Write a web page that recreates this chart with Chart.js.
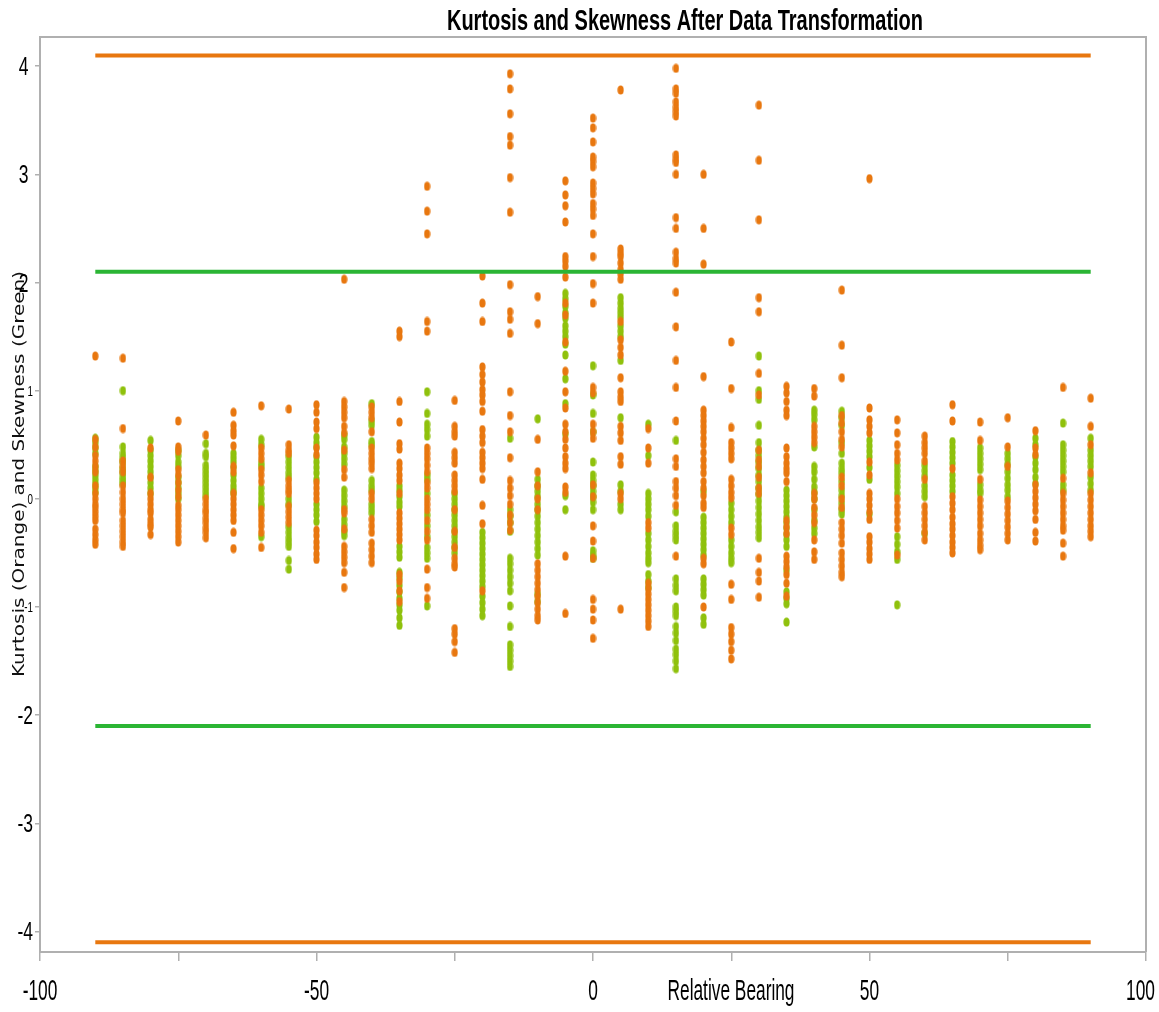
<!DOCTYPE html>
<html>
<head>
<meta charset="utf-8">
<script src="https://cdn.jsdelivr.net/npm/chart.js@4.4.1/dist/chart.umd.min.js"></script>
<style>
  html, body { margin: 0; padding: 0; background: #fff; }
  #wrap { width: 1159px; height: 1012px; position: relative; }
</style>
</head>
<body>
<div id="wrap"><canvas id="chart"></canvas></div>
<script>
// Data (one inner list per bearing column)
var bearings = [-90, -85, -80, -75, -70, -65, -60, -55, -50, -45, -40, -35, -30, -25, -20, -15, -10, -5,
  0, 5, 10, 15, 20, 25, 30, 35, 40, 45, 50, 55, 60, 65, 70, 75, 80, 85, 90];

var kurtosis = [
  [1.32, 0.55, 0.48, 0.40, 0.35, 0.30, 0.25, 0.12, 0.05, 0.00, -0.05, -0.08, -0.12, -0.16, -0.20, -0.28, -0.33, -0.38, -0.42],
  [1.30, 0.65, 0.35, 0.30, 0.25, 0.12, 0.06, 0.00, -0.05, -0.10, -0.13, -0.20, -0.25, -0.30, -0.35, -0.40, -0.44],
  [0.47, 0.20, 0.05, 0.00, -0.05, -0.10, -0.13, -0.19, -0.23, -0.26, -0.33],
  [0.72, 0.48, 0.44, 0.27, 0.22, 0.15, 0.08, 0.02, -0.06, -0.10, -0.15, -0.20, -0.25, -0.30, -0.35, -0.40],
  [0.59, 0.00, -0.05, -0.10, -0.13, -0.18, -0.22, -0.27, -0.31, -0.36],
  [0.80, 0.68, 0.63, 0.59, 0.49, 0.30, 0.25, 0.05, 0.00, -0.05, -0.10, -0.15, -0.20, -0.31, -0.46],
  [0.86, 0.47, 0.42, 0.37, 0.27, 0.22, 0.16, -0.10, -0.15, -0.20, -0.25, -0.31, -0.45],
  [0.83, 0.50, 0.45, 0.42, 0.17, 0.12, 0.08, 0.05, -0.07, -0.12, -0.17, -0.22],
  [0.87, 0.80, 0.71, 0.65, 0.47, 0.41, 0.15, 0.10, 0.05, 0.00, -0.29, -0.34, -0.40, -0.45, -0.51, -0.56],
  [2.03, 0.90, 0.85, 0.80, 0.75, 0.67, 0.61, 0.45, 0.27, 0.20, -0.10, -0.13, -0.28, -0.44, -0.49, -0.54, -0.59, -0.68, -0.82],
  [0.85, 0.80, 0.75, 0.62, 0.47, 0.42, 0.37, 0.33, 0.28, 0.05, 0.00, -0.19, -0.25, -0.31, -0.41, -0.47, -0.53, -0.59],
  [1.55, 1.50, 0.90, 0.71, 0.51, 0.46, 0.33, 0.28, 0.22, 0.17, 0.05, -0.13, -0.18, -0.23, -0.28, -0.33, -0.38, -0.70, -0.76, -0.85, -0.95],
  [2.89, 2.66, 2.45, 1.64, 1.55, 0.47, 0.42, 0.37, 0.31, 0.25, 0.15, 0.10, 0.00, -0.05, -0.10, -0.20, -0.30, -0.38, -0.65, -0.82, -0.92],
  [0.91, 0.67, 0.62, 0.58, 0.43, 0.38, 0.33, 0.22, 0.17, 0.12, 0.07, -0.10, -0.30, -0.45, -0.55, -0.60, -0.63, -1.20, -1.25, -1.32, -1.42],
  [2.06, 1.81, 1.64, 1.22, 1.15, 1.08, 1.01, 0.96, 0.90, 0.81, 0.64, 0.58, 0.52, 0.43, 0.38, 0.33, 0.28, 0.18, -0.06, -0.23, -0.85],
  [3.93, 3.79, 3.56, 3.35, 3.27, 2.97, 2.65, 1.98, 1.73, 1.66, 1.53, 0.99, 0.77, 0.62, 0.38, 0.17, 0.10, 0.03, -0.05, -0.15, -0.22, -0.29],
  [1.87, 1.62, 0.55, 0.25, 0.12, 0.00, -0.10, -0.60, -0.66, -0.72, -0.78, -0.84, -0.90, -0.96, -1.02, -1.08, -1.12],
  [2.94, 2.81, 2.71, 2.56, 2.24, 2.20, 2.15, 2.05, 1.81, 1.70, 1.45, 1.18, 0.99, 0.84, 0.69, 0.62, 0.55, 0.47, 0.39, 0.33, 0.28, 0.11, 0.06, -0.53, -1.06],
  [3.52, 3.43, 3.30, 3.16, 3.12, 3.07, 2.92, 2.87, 2.82, 2.73, 2.68, 2.62, 2.45, 2.24, 1.99, 1.81, 1.03, 0.98, 0.69, 0.62, 0.56, 0.13, 0.02, -0.25, -0.39, -0.55, -0.93, -1.02, -1.12, -1.29],
  [3.78, 2.31, 2.27, 2.24, 2.18, 2.12, 2.08, 2.03, 1.64, 1.47, 1.40, 1.33, 1.12, 0.99, 0.94, 0.90, 0.67, 0.61, 0.54, 0.39, 0.32, 0.05, 0.00, -1.02],
  [0.65, 0.47, 0.33, -0.22, -0.27, -0.78, -0.83, -0.88, -0.93, -0.98, -1.03, -1.08, -1.13, -1.18],
  [3.98, 3.79, 3.75, 3.67, 3.62, 3.58, 3.54, 3.18, 3.14, 3.11, 3.00, 2.60, 2.50, 2.28, 2.22, 2.18, 1.91, 1.59, 1.28, 1.03, 0.72, 0.37, 0.30, 0.16, 0.10, 0.03, -0.06, -0.53],
  [3.00, 2.50, 2.17, 1.13, 0.82, 0.77, 0.72, 0.67, 0.62, 0.56, 0.50, 0.43, 0.36, 0.30, 0.24, 0.16, 0.10, 0.03, -0.04, -0.08, -0.55, -0.60, -1.00],
  [1.45, 1.02, 0.66, 0.52, 0.47, 0.42, 0.37, 0.18, 0.12, 0.06, 0.01, -0.27, -0.33, -0.79, -0.93, -1.19, -1.25, -1.32, -1.40, -1.48],
  [3.64, 3.13, 2.58, 1.86, 1.73, 1.16, 0.96, 0.45, 0.36, 0.30, 0.20, 0.10, 0.05, -0.55, -0.68, -0.76, -0.91],
  [1.04, 0.98, 0.90, 0.82, 0.77, 0.47, 0.39, 0.33, 0.28, 0.24, 0.16, -0.20, -0.26, -0.32, -0.53, -0.58, -0.63, -0.70, -0.78, -0.90],
  [1.02, 0.95, 0.67, 0.62, 0.57, 0.52, 0.05, 0.00, -0.08, -0.15, -0.22, -0.38, -0.49, -0.56],
  [1.93, 1.42, 1.12, 0.77, 0.70, 0.62, 0.55, 0.48, 0.20, 0.12, 0.00, -0.08, -0.22, -0.28, -0.34, -0.41, -0.50, -0.56, -0.62, -0.68, -0.72],
  [2.96, 0.84, 0.73, 0.67, 0.61, 0.34, 0.22, 0.05, 0.00, -0.06, -0.12, -0.19, -0.35, -0.40, -0.46, -0.51, -0.56],
  [0.73, 0.61, 0.50, 0.42, 0.36, 0.00, -0.07, -0.13, -0.20, -0.27, -0.52],
  [0.58, 0.52, 0.47, 0.42, 0.35, 0.18, -0.07, -0.13, -0.19, -0.25, -0.31, -0.38],
  [0.87, 0.72, 0.28, 0.02, -0.04, -0.10, -0.17, -0.23, -0.28, -0.34, -0.40, -0.45, -0.50],
  [0.71, 0.54, 0.18, -0.01, -0.07, -0.13, -0.19, -0.25, -0.32, -0.38, -0.43, -0.47],
  [0.75, 0.48, 0.30, -0.02, -0.08, -0.14, -0.20, -0.26, -0.32, -0.38],
  [0.63, 0.47, 0.41, 0.13, 0.07, 0.01, -0.05, -0.11, -0.19, -0.31, -0.39],
  [1.03, 0.19, 0.05, -0.01, -0.07, -0.13, -0.19, -0.25, -0.29, -0.41, -0.53],
  [0.93, 0.67, 0.50, 0.24, 0.05, -0.01, -0.07, -0.13, -0.19, -0.25, -0.30, -0.35]
];

var skewness = [
  [0.56, 0.52, 0.47, 0.42, 0.30, 0.26, 0.22, 0.18, 0.14, 0.10, 0.06],
  [1.00, 0.48, 0.42, 0.38, 0.34, 0.28, 0.24, 0.20, 0.17, 0.14],
  [0.54, 0.45, 0.40, 0.35, 0.30, 0.25, 0.20, 0.15, 0.10, 0.05],
  [0.45, 0.40, 0.34, 0.30, 0.20, 0.15, 0.10, 0.05, 0.00],
  [0.51, 0.42, 0.39, 0.31, 0.27, 0.23, 0.19, 0.15, 0.11, 0.07, 0.03],
  [0.42, 0.38, 0.34, 0.29, 0.22, 0.17, 0.12, 0.08, 0.05],
  [0.55, 0.50, 0.33, 0.30, 0.10, 0.05, 0.00, -0.05, -0.07, -0.35],
  [0.39, 0.34, 0.29, 0.24, 0.20, 0.00, -0.05, -0.26, -0.31, -0.36, -0.40, -0.44, -0.57, -0.65],
  [0.57, 0.52, 0.48, 0.39, 0.34, 0.29, 0.24, 0.18, -0.05, -0.10, -0.15, -0.21],
  [0.59, 0.55, 0.48, 0.42, 0.37, 0.32, 0.08, 0.03, -0.02, -0.07, -0.19, -0.24, -0.30, -0.34],
  [0.88, 0.72, 0.68, 0.53, 0.50, 0.17, 0.12, 0.08, -0.05, -0.09, -0.13],
  [0.12, 0.08, 0.02, -0.03, -0.07, -0.44, -0.49, -0.54, -0.68, -0.73, -0.80, -0.86, -0.92, -0.98, -1.03, -1.10, -1.17],
  [0.99, 0.79, 0.69, 0.64, 0.58, 0.22, 0.18, 0.05, -0.15, -0.25, -0.35, -0.45, -0.50, -0.55, -0.99],
  [0.05, 0.00, -0.05, -0.10, -0.15, -0.20, -0.25, -0.30, -0.35, -0.40, -0.45, -0.50],
  [-0.31, -0.36, -0.41, -0.46, -0.51, -0.56, -0.61, -0.66, -0.71, -0.76, -0.81, -0.90, -0.96, -1.02, -1.08],
  [0.56, -0.10, -0.16, -0.22, -0.30, -0.55, -0.60, -0.66, -0.72, -0.78, -0.85, -0.99, -1.18, -1.35, -1.40, -1.45, -1.50, -1.55],
  [0.74, 0.18, 0.12, 0.07, 0.02, -0.05, -0.10, -0.16, -0.22, -0.28, -0.34, -0.40, -0.46, -0.52, -0.88, -0.95],
  [1.90, 1.85, 1.78, 1.72, 1.67, 1.60, 1.55, 1.50, 1.43, 1.33, 1.11, 0.88, 0.60, 0.03, -0.10],
  [1.23, 0.96, 0.79, 0.62, 0.34, 0.22, 0.17, 0.12, 0.07, 0.02, -0.03, -0.10, -0.48, -0.52, -0.55],
  [1.86, 1.81, 1.76, 1.72, 1.68, 1.60, 1.55, 1.50, 1.28, 0.75, 0.13, 0.07, -0.05, -0.10],
  [0.69, 0.40, 0.05, 0.00, -0.05, -0.10, -0.16, -0.32, -0.38, -0.44, -0.50, -0.55, -0.59, -0.70, -0.76, -0.82],
  [0.54, -0.12, -0.25, -0.30, -0.34, -0.38, -0.74, -0.80, -0.85, -1.00, -1.04, -1.08, -1.18, -1.24, -1.31, -1.39, -1.44, -1.50, -1.57],
  [0.07, -0.17, -0.22, -0.27, -0.32, -0.37, -0.42, -0.47, -0.52, -0.74, -0.79, -0.84, -0.89, -1.10, -1.16],
  [-0.04, -0.10, -0.16, -0.22, -0.38, -0.44, -0.50, -0.55, -0.59],
  [1.32, 1.00, 0.92, 0.68, 0.52, 0.45, 0.40, 0.34, 0.28, 0.22, 0.16, 0.10, 0.04, -0.02, -0.08, -0.14, -0.20, -0.26, -0.31, -0.36],
  [0.08, 0.03, -0.02, -0.07, -0.12, -0.17, -0.22, -0.27, -0.33, -0.38, -0.44, -0.66, -0.86, -0.92, -0.97, -1.14],
  [0.82, 0.78, 0.73, 0.48, 0.30, 0.25, 0.18, 0.11, 0.06, 0.00, -0.10, -0.20, -0.27, -0.32],
  [0.81, 0.75, 0.68, 0.52, 0.42, 0.33, 0.28, 0.24, 0.16, 0.08, 0.03, -0.04, -0.10, -0.14],
  [0.54, 0.49, 0.44, 0.39, 0.29, 0.18, -0.14],
  [0.31, 0.26, 0.21, 0.16, 0.11, 0.05, -0.35, -0.42, -0.49, -0.56, -0.98],
  [0.31, 0.26, 0.21, 0.12, 0.07, 0.02, -0.32],
  [0.53, 0.48, 0.43, 0.38, 0.33, 0.22, 0.17, 0.12, 0.07],
  [0.47, 0.42, 0.37, 0.32, 0.27, 0.13, 0.08, 0.05],
  [0.42, 0.37, 0.32, 0.25, 0.19, 0.13, 0.08, 0.02],
  [0.56, 0.50, 0.39, 0.33, 0.27, 0.20, 0.14],
  [0.70, 0.50, 0.45, 0.40, 0.35, 0.30, 0.25, 0.13, 0.08],
  [0.56, 0.45, 0.40, 0.35, 0.30, 0.20, 0.14, 0.08]
];

// reference limits, drawn from -90 to 90
var kurtosisLimits = [4.1, -4.1];
var skewnessLimits = [2.1, -2.1];
var limitSpan = [-90, 90];

// axes
var xRange = [-100, 100];
var yRange = [-4.19, 4.27];
var xTickMarks = [-100, -75, -50, -25, 0, 25, 50, 75, 100];
var xTickLabels = [-100, -50, 0, 50, 100];
var yTicks = [-4, -3, -2, -1, 0, 1, 2, 3, 4];

var titleText = "Kurtosis and Skewness After Data Transformation";
var xTitleText = "Relative Bearing";
var yTitleText = "Kurtosis (Orange) and Skewness (Green)";

var orange = "#e8770f";
var greenDot = "#8fc10c";
var greenLine = "#2bb534";

// Helpers
function toPoints(columns) {
  var pts = [];
  columns.forEach(function (col, i) {
    col.forEach(function (v) { pts.push({ x: bearings[i], y: v }); });
  });
  return pts;
}

function limitLine(y) {
  return limitSpan.map(function (x) { return { x: x, y: y }; });
}

// points are slightly taller than wide in the picture
function makeDot(color) {
  var c = document.createElement("canvas");
  c.width = 7;
  c.height = 10;
  var g = c.getContext("2d");
  g.fillStyle = color;
  g.beginPath();
  g.ellipse(3.5, 5, 3.1, 4.6, 0, 0, Math.PI * 2);
  g.fill();
  return c;
}

function lineSet(y, color) {
  return {
    type: "line",
    data: limitLine(y),
    borderColor: color,
    borderWidth: 4,
    pointRadius: 0,
    fill: false,
    order: 0,
  };
}

// text is drawn squeezed sideways, like the reference
function drawText(ctx, text, font, x, y, sx, align) {
  ctx.save();
  ctx.font = font;
  ctx.textAlign = align;
  ctx.textBaseline = "alphabetic";
  ctx.translate(x, y);
  ctx.scale(sx, 1);
  ctx.fillText(text, 0, 0);
  ctx.restore();
}

function fitScale(ctx, text, font, width) {
  ctx.save();
  ctx.font = font;
  var w = ctx.measureText(text).width;
  ctx.restore();
  return width / w;
}

var framePlugin = {
  id: "frame",
  beforeDatasetsDraw: function (chart) {
    var ctx = chart.ctx, a = chart.chartArea;
    ctx.save();
    ctx.strokeStyle = "#b0b0b0";
    ctx.lineWidth = 2;
    ctx.beginPath();
    ctx.moveTo(a.left, a.top);
    ctx.lineTo(a.right, a.top);
    ctx.lineTo(a.right, a.bottom);
    ctx.stroke();
    ctx.restore();
  },
  afterDraw: function (chart) {
    var ctx = chart.ctx;
    var xs = chart.scales.x, ys = chart.scales.y;
    ctx.save();
    ctx.fillStyle = "#000";

    // title
    var tFont = 'bold 30px "Liberation Sans", Arial, sans-serif';
    drawText(ctx, titleText, tFont, 685, 30, fitScale(ctx, titleText, tFont, 476), "center");

    // x labels and x title share one line
    var xFont = '30px "Liberation Sans", Arial, sans-serif';
    var sx = fitScale(ctx, xTitleText, xFont, 127);
    drawText(ctx, xTitleText, xFont, 731, 1000, sx, "center");
    xTickLabels.forEach(function (v) {
      ctx.save();
      ctx.font = xFont;
      var half = ctx.measureText(String(v)).width * sx / 2;
      ctx.restore();
      var px = xs.getPixelForValue(v);
      px = Math.max(half + 12, Math.min(chart.width - half - 4, px));
      drawText(ctx, String(v), xFont, px, 1000, sx, "center");
    });

    // y title, rotated (tick labels go on top of it)
    var yFont = '16px "DejaVu Sans", Verdana, sans-serif';
    var sy = fitScale(ctx, yTitleText, yFont, 406);
    ctx.save();
    ctx.fillStyle = "#111";
    ctx.font = yFont;
    ctx.textAlign = "center";
    ctx.translate(24, 474);
    ctx.rotate(-Math.PI / 2);
    ctx.scale(sy, 1);
    ctx.fillText(yTitleText, 0, 0);
    ctx.restore();

    // y labels: the outer ones are drawn larger
    yTicks.forEach(function (v) {
      var py = ys.getPixelForValue(v);
      if (Math.abs(v) >= 2) {
        drawText(ctx, String(v), '25px "Liberation Sans", Arial, sans-serif', v > 0 ? 28.5 : 33, py + 9, 0.7, "right");
      } else {
        drawText(ctx, String(v), '14px "Liberation Sans", Arial, sans-serif', 33, py + 5, 0.7, "right");
      }
    });

    ctx.restore();
  },
};

// Chart
var ctx = document.getElementById("chart").getContext("2d");
var chart = new Chart(ctx, {
  type: "scatter",
  data: {
    datasets: [
      lineSet(kurtosisLimits[0], orange),
      lineSet(kurtosisLimits[1], orange),
      lineSet(skewnessLimits[0], greenLine),
      lineSet(skewnessLimits[1], greenLine),
      {
        label: "Kurtosis",
        data: toPoints(kurtosis),
        pointStyle: makeDot(orange),
        pointRadius: 3,
        order: 1,
      },
      {
        label: "Skewness",
        data: toPoints(skewness),
        pointStyle: makeDot(greenDot),
        pointRadius: 3,
        order: 2,
      },
    ],
  },
  options: {
    responsive: true,
    maintainAspectRatio: false,
    animation: false,
    layout: { padding: { left: 0, right: 13, top: 37, bottom: 0 } },
    plugins: {
      legend: { display: false },
      tooltip: { enabled: false },
      title: { display: false },
    },
    scales: {
      x: {
        type: "linear",
        min: xRange[0],
        max: xRange[1],
        afterBuildTicks: function (s) {
          s.ticks = xTickMarks.map(function (v) { return { value: v }; });
        },
        afterFit: function (s) { s.height = 60; },
        ticks: { display: false },
        grid: { display: true, drawOnChartArea: false, drawTicks: true, tickLength: 9, color: "#b0b0b0", lineWidth: 1.5 },
        border: { display: true, color: "#b0b0b0", width: 2 },
      },
      y: {
        type: "linear",
        min: yRange[0],
        max: yRange[1],
        afterBuildTicks: function (s) {
          s.ticks = yTicks.map(function (v) { return { value: v }; });
        },
        afterFit: function (s) { s.width = 40; },
        ticks: { display: false },
        grid: { display: true, drawOnChartArea: false, drawTicks: true, tickLength: 5, color: "#b0b0b0", lineWidth: 1.5 },
        border: { display: true, color: "#b0b0b0", width: 2 },
      },
    },
  },
  plugins: [framePlugin],
});
</script>
</body>
</html>
